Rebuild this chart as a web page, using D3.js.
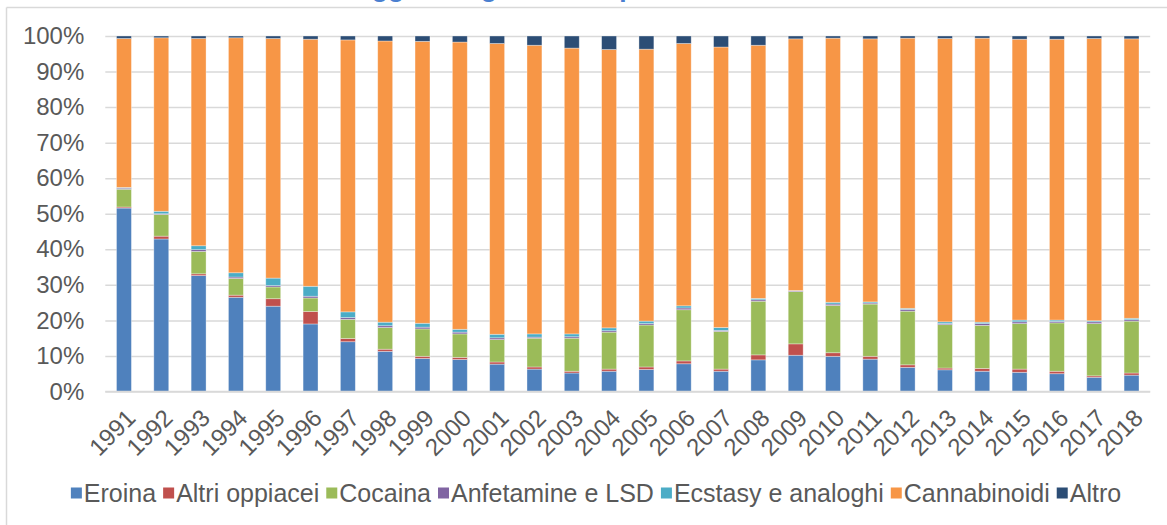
<!DOCTYPE html>
<html>
<head>
<meta charset="utf-8">
<script src="https://cdn.jsdelivr.net/npm/d3@7/dist/d3.min.js"></script>
<style>
  html, body { margin: 0; padding: 0; background: #ffffff; }
  svg { display: block; font-family: "Liberation Sans", Arial, sans-serif; }
</style>
</head>
<body>
<svg id="chart" width="1167" height="525"></svg>
<script>
// Anni (categorie dell'asse X)
const years = ["1991","1992","1993","1994","1995","1996","1997","1998","1999","2000",
  "2001","2002","2003","2004","2005","2006","2007","2008","2009","2010",
  "2011","2012","2013","2014","2015","2016","2017","2018"];

// Quote percentuali per sostanza
const eroina = [51.6,42.9,32.6,26.5,24.0,19.0,14.0,11.3,9.3,9.0,7.7,6.3,5.2,5.7,6.2,7.8,5.7,8.9,10.2,9.9,9.1,6.8,6.1,5.7,5.4,5.0,4.0,4.6];
const altriOppiacei = [0.3,0.8,0.5,0.6,2.1,3.5,0.9,0.6,0.6,0.6,0.6,0.6,0.5,0.6,0.7,0.8,0.6,1.4,3.2,1.0,0.8,0.7,0.5,0.8,0.9,0.7,0.4,0.6];
const cocaina = [5.0,6.1,6.3,4.7,3.3,3.8,5.4,6.1,7.7,6.6,6.3,8.1,9.3,10.4,11.8,14.4,10.6,15.1,14.7,13.3,14.7,15.1,12.2,12.1,12.8,13.6,14.7,14.6];
const anfetamineLSD = [0.3,0.2,0.5,0.4,0.4,0.5,0.5,0.5,0.5,0.5,0.5,0.3,0.4,0.4,0.4,0.5,0.3,0.4,0.2,0.4,0.3,0.5,0.3,0.5,0.5,0.4,0.5,0.4];
const ecstasy = [0.2,0.7,1.1,1.2,2.1,2.8,1.6,1.0,1.1,0.8,1.0,0.9,0.8,0.8,0.7,0.6,0.8,0.4,0.1,0.5,0.3,0.3,0.5,0.4,0.5,0.4,0.3,0.4];
const cannabinoidi = [41.9,48.8,58.3,66.1,67.4,69.5,76.5,79.1,79.3,80.8,81.8,81.2,80.4,78.3,76.5,73.8,78.9,71.2,70.8,74.3,74.0,76.0,79.7,79.9,79.0,79.0,79.4,78.6];
const altro = [0.7,0.5,0.7,0.5,0.7,0.9,1.1,1.4,1.5,1.7,2.1,2.6,3.4,3.8,3.7,2.1,3.1,2.6,0.8,0.6,0.8,0.6,0.7,0.6,0.9,0.9,0.7,0.8];

// Serie nell'ordine di impilamento (dal basso verso l'alto)
const seriesNames = ["Eroina","Altri oppiacei","Cocaina","Anfetamine e LSD","Ecstasy e analoghi","Cannabinoidi","Altro"];
const seriesValues = [eroina, altriOppiacei, cocaina, anfetamineLSD, ecstasy, cannabinoidi, altro];
const seriesColors = ["#4F81BD","#C0504D","#9BBB59","#8064A2","#4BACC6","#F79646","#2C4D75"];

const titleText = "Soggetti segnalati nel periodo 1991-2018";

// Tabella per d3.stack
const table = years.map((y, i) => {
  const row = { year: y };
  seriesNames.forEach((n, k) => { row[n] = seriesValues[k][i]; });
  return row;
});

const svg = d3.select("#chart");
const W = 1167, H = 525;
const plot = { left: 105.3, right: 1150.2, top: 36, bottom: 391.5 };
const textColor = "#595959";
const gridColor = "#D9D9D9";
const fontFamily = "'Liberation Sans', Arial, sans-serif";

// Cornice del grafico
svg.append("line").attr("x1", 6.5).attr("x2", W).attr("y1", 7.5).attr("y2", 7.5)
  .attr("stroke", gridColor).attr("stroke-width", 1.5);
svg.append("line").attr("x1", 6.5).attr("x2", 6.5).attr("y1", 7.5).attr("y2", H)
  .attr("stroke", gridColor).attr("stroke-width", 1.5);

// Titolo (sopra l'area visibile: ne sporgono solo le discendenti)
svg.append("text")
  .attr("x", 338).attr("y", -3.5)
  .attr("font-size", 26.5).attr("font-weight", "bold")
  .attr("fill", "#4A7FD0")
  .text(titleText);

const x = d3.scaleBand().domain(years).range([plot.left, plot.right])
  .paddingInner(0.6).paddingOuter(0.3);
const y = d3.scaleLinear().domain([0, 1]).range([plot.bottom, plot.top]);

// Griglia orizzontale
const grid = svg.append("g").attr("transform", `translate(${plot.left},0)`)
  .call(d3.axisLeft(y).ticks(10).tickSize(-(plot.right - plot.left)).tickFormat(""));
grid.select(".domain").remove();
grid.selectAll(".tick line").attr("stroke", gridColor).attr("stroke-width", 1.5);

// Etichette asse Y
const yAxis = svg.append("g").attr("transform", `translate(${plot.left},0)`)
  .call(d3.axisLeft(y).ticks(10).tickSize(0).tickPadding(21).tickFormat(d3.format(".0%")));
yAxis.select(".domain").remove();
yAxis.selectAll("text").attr("font-size", 24).attr("fill", textColor)
  .attr("font-family", fontFamily);

// Barre impilate al 100%
const stack = d3.stack().keys(seriesNames).offset(d3.stackOffsetExpand);
const layers = stack(table);

svg.append("g").selectAll("g")
  .data(layers)
  .join("g")
  .attr("fill", (d, i) => seriesColors[i])
  .selectAll("rect")
  .data(d => d)
  .join("rect")
  .attr("x", d => x(d.data.year))
  .attr("width", x.bandwidth())
  .attr("y", d => y(d[1]))
  .attr("height", d => Math.max(0, y(d[0]) - y(d[1])))
  .attr("stroke", "#ffffff").attr("stroke-opacity", 0.45).attr("stroke-width", 0.75);

// Linea di base
svg.append("line").attr("x1", plot.left).attr("x2", plot.right)
  .attr("y1", plot.bottom).attr("y2", plot.bottom)
  .attr("stroke", gridColor).attr("stroke-width", 1.5);

// Etichette asse X ruotate
const xAxis = svg.append("g").attr("transform", `translate(0,${plot.bottom})`)
  .call(d3.axisBottom(x).tickSize(0).tickFormat(d => d));
xAxis.select(".domain").remove();
xAxis.selectAll(".tick text")
  .attr("font-size", 24).attr("fill", textColor)
  .attr("font-family", fontFamily)
  .attr("text-anchor", "end")
  .attr("y", 0).attr("dy", "0.35em")
  .attr("transform", "translate(7,22) rotate(-45)");

// Legenda
const legend = svg.append("g");
const legendY = 493;
const markerSize = 11;
const itemGap = 7;
let cursor = 0;
seriesNames.forEach((name, i) => {
  const g = legend.append("g");
  g.append("rect").attr("x", cursor).attr("y", legendY - markerSize / 2)
    .attr("width", markerSize).attr("height", markerSize).attr("fill", seriesColors[i]);
  const t = g.append("text").attr("x", cursor + markerSize + 2).attr("y", legendY)
    .attr("dy", "0.35em").attr("font-size", 25).attr("fill", textColor).text(name);
  cursor += markerSize + 2 + t.node().getComputedTextLength() + itemGap;
});
const legendWidth = cursor - itemGap;
legend.attr("transform", `translate(${(72 + 1120) / 2 - legendWidth / 2},0)`);
</script>
</body>
</html>
